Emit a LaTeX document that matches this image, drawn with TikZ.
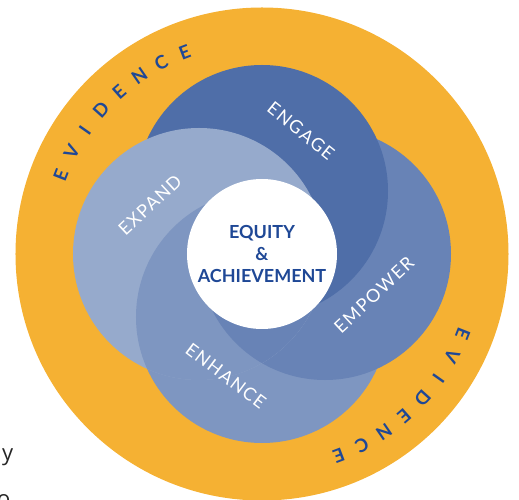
\documentclass[tikz,border=0pt]{standalone}
\usepackage{fontspec}
\setmainfont{Lato}
\newfontfamily\bodyfont{Open Sans}
\usepackage{tikz}
\usetikzlibrary{positioning}

\definecolor{ringorange}{HTML}{F5B133}
\definecolor{engageblue}{HTML}{4F6EA8}
\definecolor{empowerblue}{HTML}{6883B6}
\definecolor{enhanceblue}{HTML}{7E96C1}
\definecolor{expandblue}{HTML}{96AACC}
\definecolor{textblue}{HTML}{1F4896}

\begin{document}
\begin{tikzpicture}[
    x=1pt, y=1pt,
    petal/.style={text=white, inner sep=0pt, font=\fontsize{18}{20}\selectfont\addfontfeature{LetterSpace=8}},
    ringletter/.style={text=textblue, inner sep=0pt, font=\fontsize{18.5}{20}\selectfont\bfseries},
    hub/.style={align=center, text=textblue, font=\fontsize{18}{22}\selectfont\bfseries},
    stray/.style={anchor=base west, inner sep=0pt, text=black!85, font=\bodyfont\fontsize{22}{24}\selectfont}
]
\useasboundingbox (-262,-246) rectangle (257,254);

% Centres of the rings
\coordinate (o) at (0,0);
\coordinate (cengage) at (0,63);
\coordinate (cempower) at (63,0);
\coordinate (cenhance) at (0,-63);
\coordinate (cexpand) at (-63,0);

% Outer evidence ring
\fill[ringorange] (o) circle (246.5);

% Four rings, bottom to top
\fill[enhanceblue] (cenhance) circle (126);
\fill[empowerblue] (cempower) circle (126);
\fill[engageblue] (cengage) circle (126);
\fill[expandblue] (cexpand) circle (126);

% Enhance goes back over Expand to close the loop
\begin{scope}
  \clip (cexpand) circle (126);
  \fill[enhanceblue] (cenhance) circle (126);
  \clip (cenhance) circle (126);
  \fill[empowerblue] (cempower) circle (126);
\end{scope}

% Hub
\fill[white] (o) circle (75);
\node[hub] (hub) at (o) {EQUITY\\\&\\ACHIEVEMENT};

% Ring labels
\node[petal, rotate=-39] (engage) at (39,123) {ENGAGE};
\node[petal, rotate=43] (empower) at (112,-41) {EMPOWER};
\node[petal, rotate=-37] (enhance) at (-36,-122) {ENHANCE};
\node[petal, rotate=43] (expand) at (-112,49) {EXPAND};

% Evidence, twice round the outside
\foreach \ch [count=\i from 0] in {E,V,I,D,E,N,C,E} {
  \node[ringletter, rotate=68.6-6.8*\i] (evtop\i) at ({158.6-6.8*\i}:216) {\ch};
  \node[ringletter, rotate=-111.6-6.8*\i] (evbot\i) at ({-21.6-6.8*\i}:216) {\ch};
}

% Cut-off page text at the left
\node[stray] (strayy) at (-260,-206) {y};
\node[stray] (strayo) at (-265,-252) {o};

\end{tikzpicture}
\end{document}
